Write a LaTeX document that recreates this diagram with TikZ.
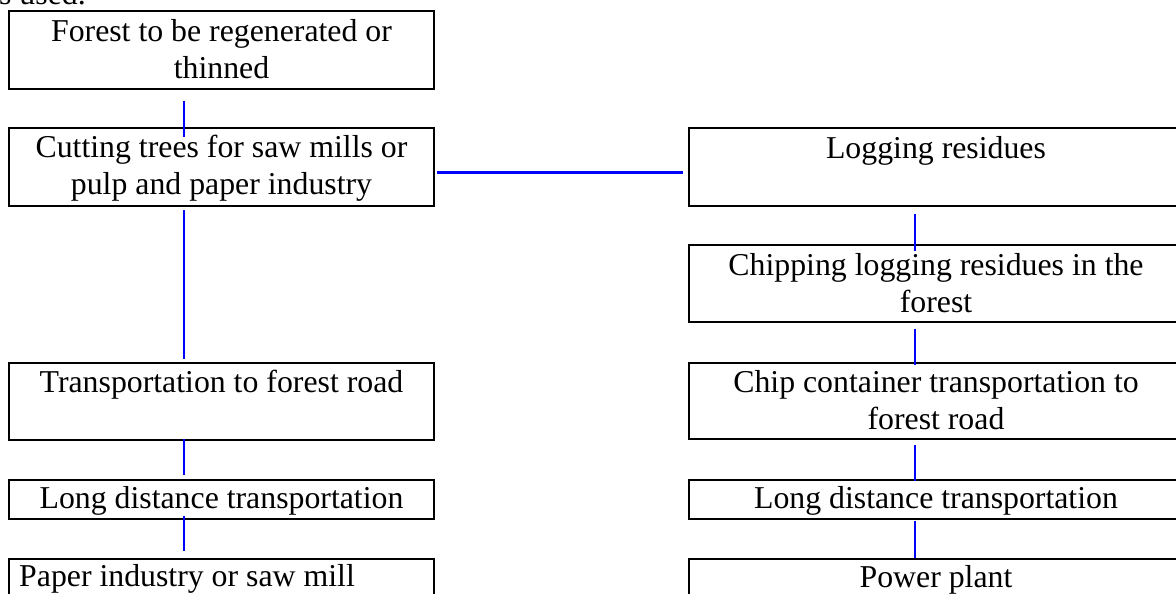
\documentclass[tikz,border=0pt]{standalone}
\usepackage{fontspec}
\setmainfont{Liberation Serif}
\usetikzlibrary{calc}
\begin{document}
\begin{tikzpicture}[x=1pt,y=-1pt,
  box/.style={draw=black, line width=2pt, rectangle, inner sep=0pt, minimum height=#1},
  lbox/.style={box=#1, minimum width=425pt},
  rbox/.style={box=#1, minimum width=494pt},
  txt/.style={inner sep=0pt, align=center, font=\fontsize{31.8}{37}\selectfont},
  lbl/.style={txt, anchor=north},
  link/.style={draw=blue, line width=2.7pt}
]
\useasboundingbox (0,0) rectangle (1176,594);
\fill[white] (0,0) rectangle (1176,594);
\clip (0,0) rectangle (1176,594);

% tail of the preceding sentence
\node[txt, anchor=base west] (prev) at (-1,5) {s used.};

% left chain: timber harvesting
\node[lbox=78pt] (L1) at (221.5,50)    {};
\node[lbox=78pt] (L2) at (221.5,167)   {};
\node[lbox=77pt] (L3) at (221.5,401.5) {};
\node[lbox=39pt] (L4) at (221.5,499.5) {};
\node[lbox=78pt] (L5) at (221.5,598)   {};

% right chain: logging residues to energy
\node[rbox=78pt] (R1) at (936,167)   {};
\node[rbox=77pt] (R2) at (936,283.5) {};
\node[rbox=76pt] (R3) at (936,401)   {};
\node[rbox=39pt] (R4) at (936,499.5) {};
\node[rbox=78pt] (R5) at (936,598)   {};

% box texts
\node[lbl] (tL1) at ($(L1.north)+(0,5)$) {\strut Forest to be regenerated or\\thinned};
\node[lbl] (tL2) at ($(L2.north)+(0,4)$) {\strut Cutting trees for saw mills or\\pulp and paper industry};
\node[lbl] (tL3) at ($(L3.north)+(0,4)$) {\strut Transportation to forest road};
\node[lbl] (tL4) at ($(L4.north)+(0,3)$) {\strut Long distance transportation};
\node[txt, anchor=north west] (tL5) at ($(L5.north west)+(11,2)$) {\strut Paper industry or saw mill};

\node[lbl] (tR1) at ($(R1.north)+(0,5)$) {\strut Logging residues};
\node[lbl] (tR2) at ($(R2.north)+(0,5)$) {\strut Chipping logging residues in the\\forest};
\node[lbl] (tR3) at ($(R3.north)+(0,4)$) {\strut Chip container transportation to\\forest road};
\node[lbl] (tR4) at ($(R4.north)+(0,3)$) {\strut Long distance transportation};
\node[lbl] (tR5) at ($(R5.north)+(0,3)$) {\strut Power plant};

% connector columns
\coordinate (lx) at (184,0);
\coordinate (rx) at (915,0);

\draw[link] ($(L1.south -| lx)+(0,11)$) -- ($(L2.north -| lx)+(0,10)$);
\draw[link] ($(L2.south -| lx)+(0,3)$)  -- ($(L3.north -| lx)+(0,-3)$);
\draw[link] ($(L3.south -| lx)+(0,-2)$) -- ($(L4.north -| lx)+(0,-4)$);
\draw[link] ($(L4.south -| lx)+(0,-4)$) -- ($(L5.north -| lx)+(0,-7)$);

\draw[link] ($(L2.east)+(1.5,5.5)$) -- ($(R1.west)+(-5,5.5)$);

\draw[link] ($(R1.south -| rx)+(0,7)$) -- ($(R2.north -| rx)+(0,7)$);
\draw[link] ($(R2.south -| rx)+(0,6)$) -- ($(R3.north -| rx)+(0,3)$);
\draw[link] ($(R3.south -| rx)+(0,5)$) -- ($(R4.north -| rx)+(0,2)$);
\draw[link] ($(R4.south -| rx)+(0,1)$) -- ($(R5.north -| rx)+(0,0)$);
\end{tikzpicture}
\end{document}
